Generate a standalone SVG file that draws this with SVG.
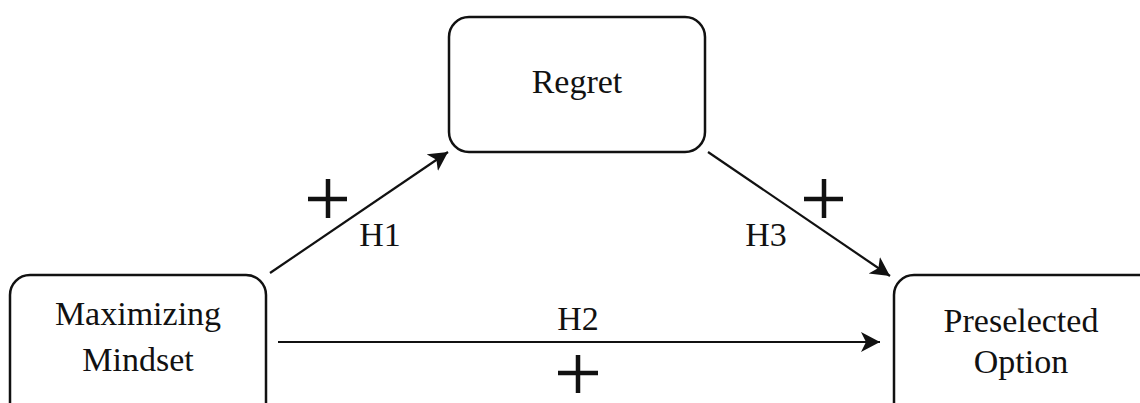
<svg xmlns="http://www.w3.org/2000/svg" width="1140" height="403" viewBox="0 0 1140 403">
<defs>
<style>
.box{fill:#fff;stroke:#111;stroke-width:2.5}
.lbl{font-family:"Liberation Serif","Times New Roman",serif;font-size:34px;fill:#111;text-anchor:middle}
.edge{fill:none;stroke:#111;stroke-width:2.2}
.plus{stroke:#111;stroke-width:4.5;fill:none}
</style>
<marker id="arr" markerUnits="userSpaceOnUse" markerWidth="22" markerHeight="22" refX="19" refY="10" orient="auto" viewBox="0 0 22 22">
<path d="M0,0 L19,10 L0,20 L5,10 z" fill="#111"/>
</marker>
</defs>
<rect width="1140" height="403" fill="#fff"/>
<g id="regret">
<rect class="box" x="449" y="17" width="256" height="135" rx="20"/>
<text class="lbl" x="577" y="93">Regret</text>
</g>
<g id="maximizing">
<rect class="box" x="10" y="275" width="256" height="160" rx="20"/>
<text class="lbl" x="138" y="325">Maximizing</text>
<text class="lbl" x="138" y="371">Mindset</text>
</g>
<g id="preselected">
<rect class="box" x="894" y="275" width="280" height="160" rx="20"/>
<text class="lbl" x="1021" y="332">Preselected</text>
<text class="lbl" x="1021" y="373">Option</text>
</g>
<g id="connectors">
<line class="edge" x1="270" y1="273" x2="448" y2="152" marker-end="url(#arr)"/>
<line class="edge" x1="708" y1="152" x2="890" y2="276" marker-end="url(#arr)"/>
<line class="edge" x1="278" y1="342" x2="880" y2="342" marker-end="url(#arr)"/>
<text class="lbl" x="380" y="246">H1</text>
<text class="lbl" x="578" y="330">H2</text>
<text class="lbl" x="766" y="246">H3</text>
<path class="plus" d="M308,199 H347 M328,179 V218"/>
<path class="plus" d="M804,199 H843 M824,179 V218"/>
<path class="plus" d="M558,373 H598 M578,355 V393"/>
</g>
</svg>
